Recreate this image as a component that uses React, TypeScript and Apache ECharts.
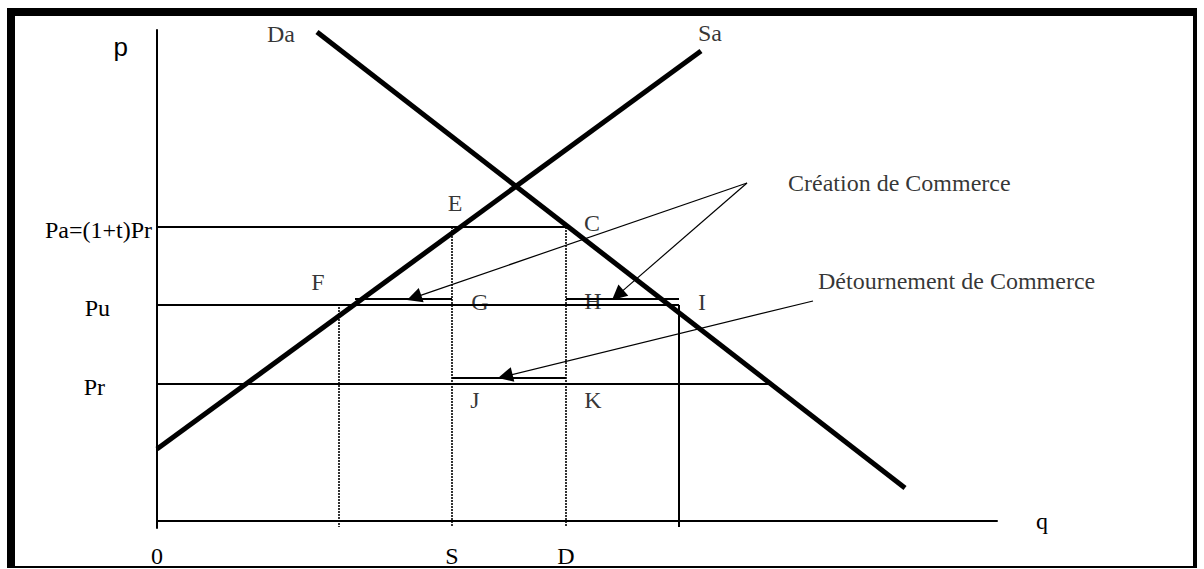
import React, { useEffect, useRef } from "react";
import * as echarts from "echarts";

// ---- Axis extents (data units) ----
const X_MIN = 0;
const X_MAX = 84;
const Y_MIN = -0.7;
const Y_MAX = 49.1;

// ---- Tick labels ----
const priceLevels = [29.4, 21.6, 13.7];
const priceNames = ["Pa=(1+t)Pr", "Pu", "Pr"];
const quantityTicks = [0, 29.5, 40.9];
const quantityNames = ["0", "S", "D"];

// ---- Curves ----
const supplySa = [[0, 7.2], [54.4, 47.0]];
const demandDa = [[16.0, 48.9], [74.8, 3.3]];

// ---- Price lines ----
const paLine = [[0, 29.4], [40.9, 29.4]];
const puLine = [[0, 21.6], [52.2, 21.6]];
const prLine = [[0, 13.7], [61.2, 13.7]];

// ---- Small segments ----
const creationLeftSeg = [[19.8, 22.2], [29.5, 22.2]];
const creationRightSeg = [[40.9, 22.2], [52.2, 22.2]];
const diversionSeg = [[29.5, 14.3], [40.9, 14.3]];
const solidDrop = [[52.2, 21.6], [52.2, -0.6]];
const dottedDropF = [[18.2, 21.4], [18.2, -0.6]];
const dottedDropS = [[29.5, 29.4], [29.5, -0.6]];
const dottedDropD = [[40.9, 29.4], [40.9, -0.6]];

// ---- Arrows (origin -> tip) ----
const creationOrigin = [59.0, 33.8];
const creationTipG = [25.0, 22.1];
const creationTipH = [45.5, 22.1];
const diversionOrigin = [65.6, 22.0];
const diversionTipJ = [34.1, 14.3];

// ---- Point labels ----
const pointNames = ["E", "C", "F", "G", "H", "I", "J", "K", "Da", "Sa"];
const pointPositions = [
  [29.8, 31.8],
  [43.5, 29.8],
  [16.1, 23.9],
  [32.3, 21.9],
  [43.6, 22.0],
  [54.5, 21.9],
  [31.8, 12.1],
  [43.6, 12.1],
  [12.4, 48.75],
  [55.3, 48.85],
];

// ---- Annotation texts ----
const annotationNames = ["Création de Commerce", "Détournement de Commerce"];
const annotationPositions = [
  [63.1, 33.8],
  [66.1, 24.0],
];

const SERIF = "'Liberation Serif', 'Times New Roman', serif";
const SANS = "'Liberation Sans', Arial, sans-serif";
const FS = 24;

function arrowEnd(from: number[], tip: number[], back: number) {
  const dx = tip[0] - from[0];
  const dy = tip[1] - from[1];
  const len = Math.sqrt(dx * dx + dy * dy);
  return [tip[0] - (dx / len) * back, tip[1] - (dy / len) * back];
}

function seg(data: number[][], width: number, dashed = false) {
  return {
    type: "line",
    data,
    showSymbol: false,
    symbol: "none",
    silent: true,
    lineStyle: {
      color: "#000",
      width,
      type: dashed ? [2, 1] : "solid",
    },
    z: 3,
  };
}

export default function App() {
  const ref = useRef<HTMLDivElement>(null);

  useEffect(() => {
    if (!ref.current) return;
    const chart = echarts.init(ref.current, undefined, { renderer: "svg" });

    const richKeys = ["a", "u", "r"];
    const ARROW_BACK = 0.75;

    const option: any = {
      animation: false,
      backgroundColor: "#fff",
      grid: { left: 157, right: 207, top: 30, bottom: 41, containLabel: false },
      xAxis: {
        type: "value",
        min: X_MIN,
        max: X_MAX,
        name: "q",
        nameLocation: "end",
        nameGap: 39,
        nameTextStyle: {
          fontFamily: SERIF,
          fontSize: FS,
          color: "#000",
          align: "left",
          verticalAlign: "middle",
          padding: [7, 0, 0, 0],
        },
        axisLine: { show: true, onZero: true, lineStyle: { color: "#000", width: 2 } },
        axisTick: { show: false },
        splitLine: { show: false },
        axisLabel: {
          customValues: quantityTicks,
          margin: 16,
          fontFamily: SERIF,
          fontSize: FS,
          color: "#000",
          formatter: (v: number) => {
            const i = quantityTicks.findIndex((t) => Math.abs(t - v) < 1e-6);
            return i >= 0 ? quantityNames[i] : "";
          },
        },
      },
      yAxis: {
        type: "value",
        min: Y_MIN,
        max: Y_MAX,
        name: "p",
        nameLocation: "end",
        nameGap: -17,
        nameTextStyle: {
          fontFamily: SANS,
          fontSize: 26,
          color: "#000",
          align: "right",
          verticalAlign: "middle",
          padding: [0, 29, 0, 0],
        },
        axisLine: { show: true, lineStyle: { color: "#000", width: 2 } },
        axisTick: { show: false },
        splitLine: { show: false },
        axisLabel: {
          customValues: priceLevels,
          margin: 5,
          fontFamily: SERIF,
          fontSize: FS,
          color: "#000",
          formatter: (v: number) => {
            const i = priceLevels.findIndex((t) => Math.abs(t - v) < 1e-6);
            return i >= 0 ? `{${richKeys[i]}|${priceNames[i]}}` : "";
          },
          rich: {
            a: { fontFamily: SERIF, fontSize: FS, color: "#000", padding: [6, 0, 0, 0] },
            u: { fontFamily: SERIF, fontSize: FS, color: "#000", padding: [6, 42, 0, 0] },
            r: { fontFamily: SERIF, fontSize: FS, color: "#000", padding: [6, 47, 0, 0] },
          },
        },
      },
      graphic: [
        { type: "rect", shape: { x: 7, y: 8, width: 1190, height: 8 }, style: { fill: "#000" }, silent: true },
        { type: "rect", shape: { x: 7, y: 8, width: 8, height: 560 }, style: { fill: "#000" }, silent: true },
        { type: "rect", shape: { x: 1193, y: 8, width: 4, height: 560 }, style: { fill: "#000" }, silent: true },
        { type: "rect", shape: { x: 7, y: 566, width: 1190, height: 2 }, style: { fill: "#000" }, silent: true },
      ],
      series: [
        seg(paLine, 2),
        seg(puLine, 2),
        seg(prLine, 2),
        seg(creationLeftSeg, 2),
        seg(creationRightSeg, 2),
        seg(diversionSeg, 2),
        seg(solidDrop, 2),
        seg(dottedDropF, 1.6, true),
        seg(dottedDropS, 1.6, true),
        seg(dottedDropD, 1.6, true),
        { ...seg(supplySa, 5), z: 5 },
        { ...seg(demandDa, 5), z: 5 },
        {
          type: "lines",
          coordinateSystem: "cartesian2d",
          silent: true,
          symbol: ["none", "triangle"],
          symbolSize: [9, 15],
          lineStyle: { color: "#000", width: 1.2, opacity: 1, curveness: 0 },
          z: 6,
          data: [
            { coords: [creationOrigin, arrowEnd(creationOrigin, creationTipG, ARROW_BACK)] },
            { coords: [creationOrigin, arrowEnd(creationOrigin, creationTipH, ARROW_BACK)] },
            { coords: [diversionOrigin, arrowEnd(diversionOrigin, diversionTipJ, ARROW_BACK)] },
          ],
        },
        {
          type: "scatter",
          silent: true,
          clip: false,
          symbolSize: 1,
          itemStyle: { color: "rgba(0,0,0,0)" },
          z: 7,
          data: pointNames.map((n, i) => ({ name: n, value: pointPositions[i] })),
          label: {
            show: true,
            position: "inside",
            align: "center",
            verticalAlign: "middle",
            formatter: (p: any) => p.name,
            fontFamily: SERIF,
            fontSize: FS,
            color: "#000",
          },
        },
        {
          type: "scatter",
          silent: true,
          clip: false,
          symbolSize: 1,
          itemStyle: { color: "rgba(0,0,0,0)" },
          z: 7,
          data: annotationNames.map((n, i) => ({ name: n, value: annotationPositions[i] })),
          label: {
            show: true,
            position: "inside",
            align: "left",
            verticalAlign: "middle",
            formatter: (p: any) => p.name,
            fontFamily: SERIF,
            fontSize: FS,
            color: "#000",
          },
        },
      ],
    };

    chart.setOption(option);
    return () => chart.dispose();
  }, []);

  return (
    <div
      ref={ref}
      style={{ position: "fixed", left: 0, top: 0, width: 1204, height: 569, background: "#fff" }}
    />
  );
}
